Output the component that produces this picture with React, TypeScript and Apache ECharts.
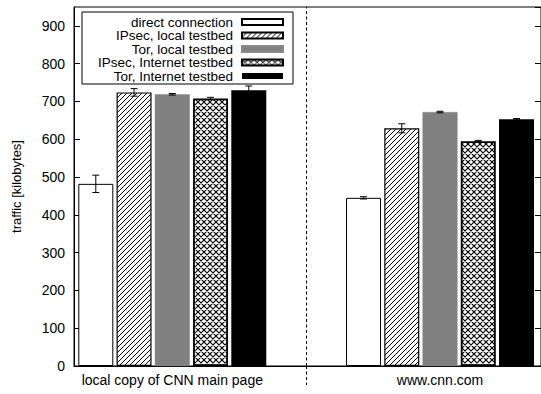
import React, { useEffect, useRef } from "react";
import * as echarts from "echarts";

const categories = ["local copy of CNN main page", "www.cnn.com"];
const seriesNames = [
  "direct connection",
  "IPsec, local testbed",
  "Tor, local testbed",
  "IPsec, Internet testbed",
  "Tor, Internet testbed",
];
const directConnection = [482, 445];
const directConnectionErr = [23, 3];
const ipsecLocal = [724, 629];
const ipsecLocalErr = [10, 12];
const torLocal = [719, 672];
const torLocalErr = [2, 2];
const ipsecInternet = [708, 595];
const ipsecInternetErr = [3, 2];
const torInternet = [730, 653];
const torInternetErr = [11, 2];
const yMin = 0;
const yMax = 950;
const yInterval = 100;
const yAxisTitle = "traffic [kilobytes]";

const FONT = "Liberation Sans";

function makePattern(kind: "hatch" | "cross") {
  const size = kind === "hatch" ? 5 : 6;
  const c = document.createElement("canvas");
  c.width = size;
  c.height = size;
  const ctx = c.getContext("2d")!;
  ctx.fillStyle = "#fff";
  ctx.fillRect(0, 0, size, size);
  ctx.strokeStyle = "#000";
  ctx.lineWidth = kind === "hatch" ? 1 : 1.15;
  ctx.beginPath();
  for (const o of [-size, 0, size]) {
    ctx.moveTo(o - 1, size + 1);
    ctx.lineTo(o + size + 1, -1);
    if (kind === "cross") {
      ctx.moveTo(o - 1, -1);
      ctx.lineTo(o + size + 1, size + 1);
    }
  }
  ctx.stroke();
  return { image: c, repeat: "repeat" };
}

export default function App() {
  const ref = useRef<HTMLDivElement>(null);
  useEffect(() => {
    if (!ref.current) return;
    const chart = echarts.init(ref.current, null, { renderer: "svg" });
    const values = [directConnection, ipsecLocal, torLocal, ipsecInternet, torInternet];
    const errors = [directConnectionErr, ipsecLocalErr, torLocalErr, ipsecInternetErr, torInternetErr];
    const nBars = seriesNames.length;
    const slot = nBars + 2;
    const groupCenters = categories.map((_, g) => g * slot + (nBars - 1) / 2);
    const separators = categories.slice(1).map((_, g) => (g + 1) * slot - 1.5);
    const hatch = makePattern("hatch");
    const cross = makePattern("cross");
    const styles: any[] = [
      { color: "#fff", borderColor: "#000", borderWidth: 1 },
      { color: hatch, borderColor: "#000", borderWidth: 1.2 },
      { color: "#808080", borderColor: "#8a8a8a", borderWidth: 0.5 },
      { color: cross, borderColor: "#000", borderWidth: 1.8 },
      { color: "#000", borderColor: "#000", borderWidth: 0 },
    ];
    const barSeries = seriesNames.map((name, s) => ({
      name,
      type: "bar",
      barWidth: 35,
      barGap: "-100%",
      itemStyle: styles[s],
      data: values[s].map((v, g) => [g * slot + s, v]),
      z: 2,
      ...(s === 0
        ? {
            markLine: {
              silent: true,
              symbol: "none",
              label: { show: false },
              lineStyle: { color: "#000", width: 1, type: [3, 2.5] },
              data: separators.map((x) => ({ xAxis: x })),
            },
          }
        : {}),
    }));
    const errData: number[][] = [];
    values.forEach((arr, s) =>
      arr.forEach((v, g) => errData.push([g * slot + s, v, errors[s][g]]))
    );
    const errorSeries = {
      type: "custom",
      name: "err",
      z: 5,
      encode: { x: 0, y: 1 },
      data: errData,
      renderItem: (params: any, api: any) => {
        const x = api.value(0);
        const y = api.value(1);
        const e = api.value(2);
        const lo = api.coord([x, y - e]);
        const hi = api.coord([x, y + e]);
        const cap = 3.5;
        const st = { stroke: "#000", lineWidth: 1 };
        return {
          type: "group",
          children: [
            { type: "line", shape: { x1: lo[0], y1: lo[1], x2: hi[0], y2: hi[1] }, style: st },
            { type: "line", shape: { x1: lo[0] - cap, y1: lo[1], x2: lo[0] + cap, y2: lo[1] }, style: st },
            { type: "line", shape: { x1: hi[0] - cap, y1: hi[1], x2: hi[0] + cap, y2: hi[1] }, style: st },
          ],
        };
      },
    };
    const axisCommon = {
      type: "value",
      min: yMin,
      max: yMax,
      interval: yInterval,
      splitLine: { show: false },
      axisLine: { show: true, onZero: false, lineStyle: { color: "#000", width: 1 } },
      axisTick: { show: true, inside: true, length: 6, lineStyle: { color: "#000" } },
    };
    chart.setOption({
      animation: false,
      backgroundColor: "#fff",
      grid: {
        left: 74,
        top: 7,
        right: -3,
        bottom: 28,
        show: true,
        borderColor: "#000",
        borderWidth: 1,
        containLabel: false,
      },
      legend: {
        data: seriesNames,
        orient: "vertical",
        left: 82,
        top: 12,
        align: "right",
        icon: "rect",
        itemWidth: 41,
        itemHeight: 6,
        itemGap: -0.5,
        padding: [3, 9, 1, 12],
        borderColor: "#000",
        borderWidth: 1,
        backgroundColor: "#fff",
        selectedMode: false,
        textStyle: {
          fontFamily: FONT,
          fontSize: 13.5,
          color: "#000",
          lineHeight: 13,
          width: 139,
          align: "right",
          overflow: "none",
          padding: [0, 4, 0, 0],
        },
      },
      xAxis: {
        type: "value",
        min: -0.57,
        max: 11.64,
        splitLine: { show: false },
        axisLine: { show: true, onZero: false, lineStyle: { color: "#000", width: 1 } },
        axisTick: {
          show: true,
          inside: false,
          length: 19,
          customValues: separators,
          lineStyle: { color: "#000", width: 1, type: [3, 2.5] },
        },
        axisLabel: {
          show: true,
          customValues: groupCenters,
          formatter: (v: number) => {
            const i = groupCenters.findIndex((c) => Math.abs(c - v) < 1e-6);
            return i >= 0 ? categories[i] : "";
          },
          fontFamily: FONT,
          fontSize: 14,
          color: "#000",
          margin: 7,
        },
      },
      yAxis: [
        {
          ...axisCommon,
          position: "left",
          name: yAxisTitle,
          nameLocation: "middle",
          nameGap: 51,
          nameTextStyle: { fontFamily: FONT, fontSize: 13, color: "#000" },
          axisLabel: { fontFamily: FONT, fontSize: 14, color: "#000", margin: 9, showMaxLabel: false },
        },
        {
          ...axisCommon,
          position: "right",
          axisLabel: { show: false },
        },
      ],
      series: [...barSeries, errorSeries],
    });
    return () => chart.dispose();
  }, []);
  return (
    <div
      ref={ref}
      style={{ position: "fixed", left: 0, top: 0, width: 541, height: 394, background: "#fff" }}
    />
  );
}
